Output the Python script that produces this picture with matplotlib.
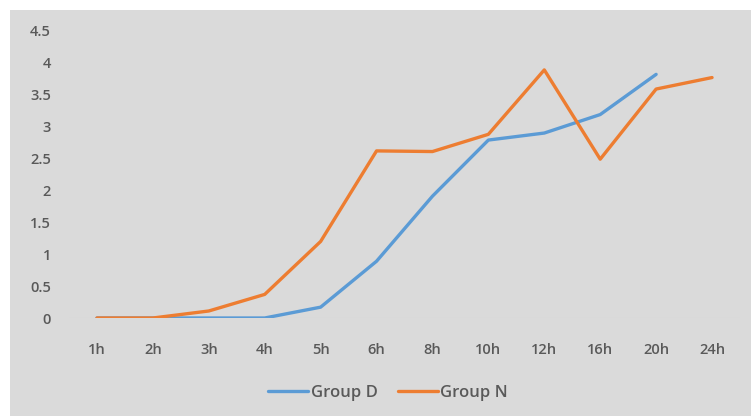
import matplotlib
matplotlib.use("Agg")
import matplotlib.pyplot as plt
from matplotlib.patches import Rectangle

# data
hours = ['1h', '2h', '3h', '4h', '5h', '6h', '8h', '10h', '12h', '16h', '20h', '24h']
group_d = [0, 0, 0, 0, 0.17, 0.89, 1.91, 2.79, 2.9, 3.19, 3.82]
group_n = [0, 0, 0.11, 0.37, 1.2, 2.62, 2.61, 2.88, 3.89, 2.49, 3.59, 3.77]
yticks = [0, 0.5, 1, 1.5, 2, 2.5, 3, 3.5, 4, 4.5]

plt.rcParams['font.family'] = ['Open Sans', 'DejaVu Sans']
text_col = '#595959'
W, H = 751, 416

fig = plt.figure(figsize=(W / 100, H / 100), dpi=100)
fig.patch.set_facecolor('white')
# gray chart area, white strip on top and left
fig.patches.append(Rectangle((10 / W, 0), 1, 1 - 10 / H, transform=fig.transFigure,
                             facecolor='#dadada', edgecolor='none', zorder=-10))

ax = fig.add_axes([69 / W, 1 - 318 / H, 671 / W, 287 / H])
ax.set_facecolor('none')

x = list(range(len(hours)))
ax.plot(x[:len(group_d)], group_d, color='#5b9bd5', lw=2.4, label='Group D',
        solid_capstyle='round', solid_joinstyle='round')
ax.plot(x, group_n, color='#ed7d31', lw=2.4, label='Group N',
        solid_capstyle='round', solid_joinstyle='round')

ax.set_xlim(-0.5, len(hours) - 0.5)
ax.set_ylim(0, 4.5)
ax.set_xticks(x)
ax.set_xticklabels(hours)
ax.set_yticks(yticks)
ax.set_yticklabels(['%g' % v for v in yticks])
for s in ax.spines.values():
    s.set_visible(False)
ax.axhline(0, color='#d0d0d0', lw=0.8, zorder=0)
ax.tick_params(length=0, labelsize=10.5, labelcolor=text_col)
ax.tick_params(axis='y', pad=13)
ax.tick_params(axis='x', pad=18)
for lab in ax.get_xticklabels() + ax.get_yticklabels():
    lab.set_fontweight('semibold')

fig.legend(loc='center', bbox_to_anchor=(388 / W, 1 - 393 / H), ncol=2, frameon=False,
           prop={'size': 12, 'weight': 'semibold'}, labelcolor=text_col,
           handlelength=2.4, handletextpad=0.15, columnspacing=1.2)

fig.savefig('out.png', dpi=100)
